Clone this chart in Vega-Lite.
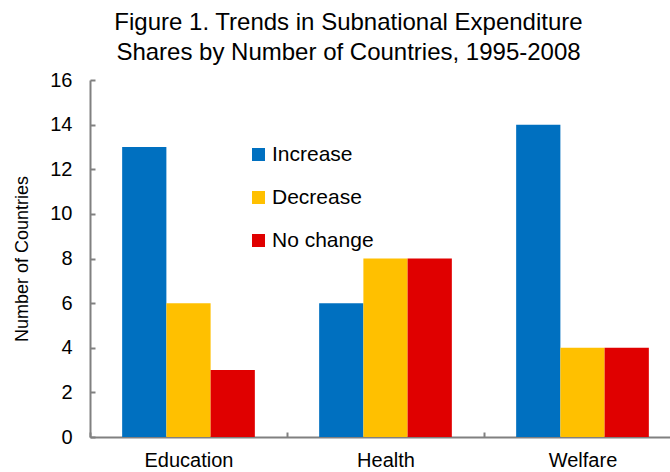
{
  "$schema": "https://vega.github.io/schema/vega-lite/v6.json",
  "autosize": {"type": "none"},
  "padding": {"left": 90, "top": 80, "right": 0, "bottom": 35},
  "width": 591,
  "height": 357,
  "background": "white",
  "title": {
    "text": ["Figure 1. Trends in Subnational Expenditure", "Shares by Number of Countries, 1995-2008"],
    "font": "Liberation Sans",
    "fontSize": 24,
    "fontWeight": "normal",
    "color": "black",
    "anchor": "middle",
    "dx": -37,
    "offset": 5,
    "lineHeight": 30
  },
  "data": {
    "values": [
      {"sector": "Education", "trend": "Increase", "count": 13},
      {"sector": "Education", "trend": "Decrease", "count": 6},
      {"sector": "Education", "trend": "No change", "count": 3},
      {"sector": "Health", "trend": "Increase", "count": 6},
      {"sector": "Health", "trend": "Decrease", "count": 8},
      {"sector": "Health", "trend": "No change", "count": 8},
      {"sector": "Welfare", "trend": "Increase", "count": 14},
      {"sector": "Welfare", "trend": "Decrease", "count": 4},
      {"sector": "Welfare", "trend": "No change", "count": 4}
    ]
  },
  "mark": {"type": "bar"},
  "encoding": {
    "x": {
      "field": "sector",
      "type": "nominal",
      "sort": ["Education", "Health", "Welfare"],
      "scale": {"paddingInner": 0, "paddingOuter": 0},
      "axis": {
        "title": null,
        "labelAngle": 0,
        "labelFont": "Liberation Sans",
        "labelFontSize": 20,
        "labelColor": "black",
        "labelPadding": 18,
        "domainColor": "#808080",
        "domainWidth": 2,
        "tickColor": "#808080",
        "tickWidth": 2,
        "tickSize": -5,
        "tickBand": "extent"
      }
    },
    "xOffset": {
      "field": "trend",
      "type": "nominal",
      "sort": ["Increase", "Decrease", "No change"],
      "scale": {"paddingInner": 0, "paddingOuter": 0.727}
    },
    "y": {
      "field": "count",
      "type": "quantitative",
      "scale": {"domain": [0, 16], "nice": false},
      "axis": {
        "title": "Number of Countries",
        "titleFont": "Liberation Sans",
        "titleFontSize": 18,
        "titleFontWeight": "normal",
        "titleColor": "black",
        "titlePadding": 18,
        "values": [0, 2, 4, 6, 8, 10, 12, 14, 16],
        "grid": false,
        "labelFont": "Liberation Sans",
        "labelFontSize": 20,
        "labelColor": "black",
        "labelPadding": 23,
        "domainColor": "#808080",
        "domainWidth": 2,
        "tickColor": "#808080",
        "tickWidth": 2,
        "tickSize": -5
      }
    },
    "color": {
      "field": "trend",
      "type": "nominal",
      "sort": ["Increase", "Decrease", "No change"],
      "scale": {"domain": ["Increase", "Decrease", "No change"], "range": ["#0070C0", "#FFC000", "#E00000"]},
      "legend": {
        "title": null,
        "orient": "none",
        "legendX": 158,
        "legendY": 64,
        "symbolType": "square",
        "symbolSize": 170,
        "symbolStrokeWidth": 0,
        "symbolOpacity": 1,
        "labelFont": "Liberation Sans",
        "labelFontSize": 21,
        "labelColor": "black",
        "labelOffset": 3,
        "rowPadding": 21
      }
    }
  },
  "config": {"view": {"stroke": null}}
}
